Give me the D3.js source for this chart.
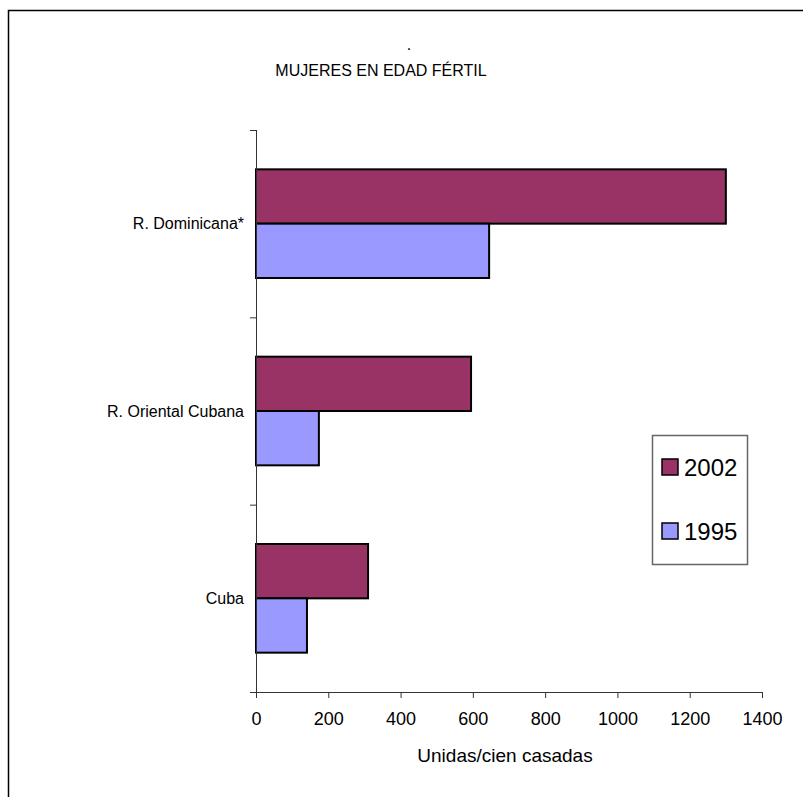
<!DOCTYPE html>
<html>
<head>
<meta charset="utf-8">
<script src="https://cdn.jsdelivr.net/npm/d3@7"></script>
<style>
  body { margin: 0; background: #fff; }
  text { font-family: "Liberation Sans", Arial, sans-serif; fill: #000; }
</style>
</head>
<body>
<div id="chart"></div>
<script>
// data
var categories = ["R. Dominicana*", "R. Oriental Cubana", "Cuba"];
var seriesNames = ["2002", "1995"];
var values2002 = [1300, 595, 310];
var values1995 = [645, 174, 141];
var xTicks = [0, 200, 400, 600, 800, 1000, 1200, 1400];

var colors = { "2002": "#993366", "1995": "#9999ff" };

var width = 803, height = 797;
var margin = { top: 130, right: 41, bottom: 105, left: 256 },
    innerW = width - margin.left - margin.right,
    innerH = height - margin.top - margin.bottom;

var svg = d3.select("#chart").append("svg")
    .attr("width", width)
    .attr("height", height);

// outer frame (only top and left edges are visible)
svg.append("rect")
    .attr("x", 8.5).attr("y", 10.5)
    .attr("width", 900).attr("height", 900)
    .attr("fill", "none")
    .attr("stroke", "#000")
    .attr("stroke-width", 1.5);

// title
svg.append("text")
    .attr("x", 409).attr("y", 50)
    .attr("text-anchor", "middle")
    .style("font-size", "16px")
    .text(".");
svg.append("text")
    .attr("x", 381).attr("y", 76)
    .attr("text-anchor", "middle")
    .style("font-size", "16px")
    .text("MUJERES EN EDAD FÉRTIL");

var g = svg.append("g")
    .attr("transform", "translate(" + margin.left + "," + margin.top + ")");

var x = d3.scaleLinear().domain([0, 1400]).range([0, innerW]);
var y = d3.scaleBand().domain(categories).range([0, innerH])
    .paddingInner(0.42).paddingOuter(0.21);
var yInner = d3.scaleBand().domain(seriesNames).range([0, y.bandwidth()]);

var rows = categories.map(function(c, i) {
    return { cat: c, vals: [
        { name: "2002", v: values2002[i] },
        { name: "1995", v: values1995[i] }
    ] };
});

// bars
var groups = g.selectAll(".cat").data(rows).enter().append("g")
    .attr("class", "cat")
    .attr("transform", d => "translate(0," + y(d.cat) + ")");
groups.selectAll("rect").data(d => d.vals).enter().append("rect")
    .attr("x", 0)
    .attr("y", d => yInner(d.name))
    .attr("width", d => x(d.v))
    .attr("height", yInner.bandwidth())
    .attr("fill", d => colors[d.name])
    .attr("stroke", "#000")
    .attr("stroke-width", 2);

// y axis: line with ticks at category boundaries
var yBounds = d3.range(categories.length + 1).map(i => i * innerH / categories.length);
g.append("line")
    .attr("x1", 0.5).attr("x2", 0.5)
    .attr("y1", 0).attr("y2", innerH)
    .attr("stroke", "#333").attr("stroke-width", 1);
g.selectAll(".ytick").data(yBounds).enter().append("line")
    .attr("x1", -6).attr("x2", 0.5)
    .attr("y1", d => d + 0.5).attr("y2", d => d + 0.5)
    .attr("stroke", "#333");
g.selectAll(".ylab").data(categories).enter().append("text")
    .attr("x", -12)
    .attr("y", d => y(d) + y.bandwidth() / 2)
    .attr("dy", "0.35em")
    .attr("text-anchor", "end")
    .style("font-size", "16px")
    .text(d => d);

// x axis
var xAxis = d3.axisBottom(x).tickValues(xTicks).tickFormat(d3.format("d"))
    .tickSize(6).tickPadding(14).tickSizeOuter(0);
var xg = g.append("g")
    .attr("transform", "translate(0," + innerH + ")")
    .call(xAxis);
xg.select(".domain").attr("stroke", "#333").attr("d", "M-6,0.5H" + innerW);
xg.selectAll(".tick line").attr("stroke", "#333");
xg.selectAll(".tick text")
    .style("font-size", "18px")
    .style("font-family", "'Liberation Sans', Arial, sans-serif")
    .attr("fill", "#000");

svg.append("text")
    .attr("x", 505).attr("y", 762)
    .attr("text-anchor", "middle")
    .style("font-size", "19px")
    .text("Unidas/cien casadas");

// legend
var legend = svg.append("g");
legend.append("rect")
    .attr("x", 652.5).attr("y", 435.5)
    .attr("width", 95).attr("height", 129)
    .attr("fill", "#fff")
    .attr("stroke", "#666").attr("stroke-width", 1.5);
var items = legend.selectAll(".item").data(seriesNames).enter().append("g")
    .attr("class", "item")
    .attr("transform", (d, i) => "translate(662," + (459 + i * 64) + ")");
items.append("rect")
    .attr("width", 16).attr("height", 16)
    .attr("fill", d => colors[d])
    .attr("stroke", "#000").attr("stroke-width", 1.5);
items.append("text")
    .attr("x", 22).attr("y", 8)
    .attr("dy", "0.36em")
    .style("font-size", "24px")
    .text(d => d);
</script>
</body>
</html>
